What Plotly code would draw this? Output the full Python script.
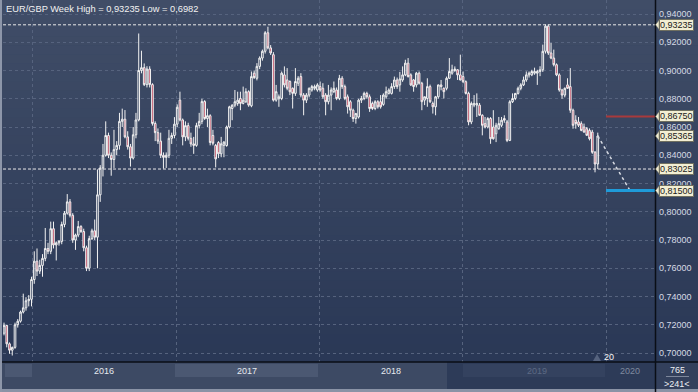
import plotly.graph_objects as go
import pandas as pd

# ---------------- data (weekly EUR/GBP candles) ----------------
title_text = "EUR/GBP Week High = 0,93235 Low = 0,6982"
first_week = "2015-10-21"

open_ = [
    .7140,.7195,.7065,.7020,.7040,.7200,.7225,.7290,.7320,.7370,
    .7380,.7520,.7650,.7580,.7620,.7670,.7740,.7720,.7880,.7765,
    .7780,.7790,.7910,.7990,.8070,.7975,.7800,.7835,.7895,.7860,
    .7745,.7600,.7810,.7865,.7820,.8120,.8310,.8400,.8540,.8400,
    .8370,.8440,.8470,.8640,.8655,.8530,.8460,.8380,.8545,.8650,
    .9000,.9020,.8900,.9010,.8900,.8625,.8560,.8500,.8400,.8385,
    .8400,.8520,.8540,.8620,.8790,.8650,.8530,.8610,.8520,.8480,
    .8470,.8610,
    .8640,.8780,.8660,.8680,.8540,.8470,.8490,.8410,.8470,.8469,
    .8600,.8731,.8755,.8767,.8802,.8767,.8779,.8850,.8750,.8981,
    .8945,.9029,.9088,.9136,.9267,.9160,.9112,.8790,.8800,.8802,
    .8969,.8933,.8922,.8874,.8838,.8910,.8957,.8826,.8790,.8826,
    .8862,.8874,.8862,.8886,.8874,.8826,.8779,.8826,.8850,.8862,
    .8802,.8945,.8886,.8814,.8779,.8719,.8660,.8671,.8790,.8802,
    .8838,.8814,.8767,.8731,.8779,.8779,.8760,.8814,.8838,.8838,.8886,.8933,
    .8898,.8933,.8969,.9052,.8969,.8933,.8898,.8981,.8910,.8790,
    .8802,.8886,.8767,.8743,.8814,.8898,.8874,.8874,.8945,.8981,
    .9000,.9005,.8969,.8957,.8921,.8838,.8636,.8755,.8755,.8755,
    .8683,.8624,.8600,.8660,.8600,.8552,.8588,.8612,.8660,.8636,
    .8505,.8779,.8802,.8838,.8874,.8898,.8933,.8969,.8969,.8981,
    .8981,.8993,.9005,.9136,.9314,.9124,.9088,.9041,.8969,.8862,
    .8826,.8898,.8886,.8719,.8648,.8636,.8624,.8600,.8588,.8576,.8564,.8421,.8338,
]
high_ = [
    .7215,.7200,.7075,.7045,.7215,.7240,.7300,.7420,.7395,.7410,
    .7540,.7720,.7740,.7660,.7700,.7885,.7780,.7930,.7930,.7790,
    .7800,.7930,.8005,.8125,.8090,.7990,.7845,.7935,.7905,.7880,
    .7760,.7830,.7880,.7945,.8300,.8330,.8480,.8640,.8560,.8420,
    .8580,.8500,.8700,.8730,.8720,.8570,.8480,.8600,.8700,.9262,
    .9140,.9050,.9030,.9030,.8910,.8640,.8590,.8560,.8420,.8420,
    .8580,.8560,.8670,.8760,.8850,.8660,.8640,.8630,.8560,.8530,
    .8630,.8700,
    .8800,.8790,.8730,.8690,.8580,.8480,.8500,.8530,.8500,.8610,
    .8750,.8760,.8862,.8850,.8850,.8886,.8874,.8860,.8993,.9000,
    .9052,.9100,.9148,.9279,.9310,.9180,.9130,.8898,.8830,.8993,
    .9029,.9017,.8930,.8880,.9017,.8960,.8981,.8840,.8840,.8880,
    .8898,.8900,.8910,.8922,.8910,.8840,.8898,.8880,.8922,.8880,
    .8969,.8960,.8900,.8830,.8790,.8730,.8700,.8800,.8820,.8850,
    .8850,.8830,.8780,.8790,.8790,.8826,.8838,.8886,.8874,.8910,.8957,.8950,
    .8990,.9029,.9076,.9088,.8980,.8940,.8990,.8993,.8920,.8810,
    .8945,.8900,.8780,.8820,.8900,.8933,.8880,.8957,.9088,.9041,
    .9029,.9010,.9112,.8993,.8930,.8850,.8780,.8826,.8838,.8770,
    .8690,.8671,.8670,.8670,.8719,.8630,.8671,.8671,.8683,.8650,
    .8790,.8838,.8840,.8886,.8910,.8957,.8993,.8993,.9005,.9020,
    .9005,.9030,.9183,.9326,.9326,.9195,.9148,.9050,.8980,.8870,
    .8880,.8945,.9017,.8730,.8683,.8671,.8640,.8624,.8600,.8590,.8580,.8430,.8560,
]
low_ = [
    .7125,.7040,.6995,.6982,.7030,.7180,.7215,.7280,.7300,.7330,
    .7330,.7490,.7545,.7560,.7540,.7650,.7700,.7700,.7740,.7655,
    .7760,.7770,.7890,.7980,.7960,.7780,.7730,.7820,.7850,.7720,
    .7580,.7580,.7800,.7800,.7600,.8070,.8250,.8390,.8380,.8255,
    .8310,.8400,.8440,.8600,.8520,.8440,.8320,.8370,.8520,.8640,
    .8980,.8890,.8880,.8880,.8610,.8500,.8480,.8380,.8305,.8310,
    .8380,.8480,.8520,.8600,.8640,.8470,.8500,.8505,.8460,.8410,
    .8460,.8590,
    .8620,.8650,.8600,.8470,.8470,.8314,.8380,.8386,.8386,.8460,
    .8590,.8648,.8740,.8750,.8719,.8760,.8770,.8743,.8740,.8940,
    .8930,.9010,.9070,.9120,.9150,.9110,.8780,.8779,.8743,.8790,
    .8880,.8860,.8826,.8731,.8820,.8890,.8810,.8683,.8770,.8810,
    .8850,.8860,.8850,.8850,.8800,.8683,.8760,.8719,.8840,.8790,
    .8790,.8870,.8790,.8695,.8671,.8636,.8624,.8660,.8770,.8790,
    .8800,.8707,.8720,.8719,.8730,.8730,.8750,.8800,.8830,.8830,.8870,.8870,
    .8850,.8920,.8960,.8950,.8890,.8850,.8880,.8900,.8719,.8755,
    .8743,.8770,.8695,.8683,.8800,.8860,.8802,.8860,.8940,.8970,
    .8990,.8933,.8930,.8910,.8830,.8612,.8620,.8740,.8671,.8680,
    .8541,.8590,.8590,.8481,.8510,.8493,.8580,.8600,.8630,.8493,
    .8500,.8770,.8790,.8830,.8860,.8890,.8920,.8950,.8960,.8970,
    .8898,.8960,.8990,.9120,.9110,.9080,.9029,.8960,.8850,.8800,
    .8810,.8870,.8700,.8588,.8588,.8600,.8570,.8560,.8540,.8505,.8410,.8279,.8302,
]
close_ = [
    .7195,.7065,.7020,.7040,.7200,.7225,.7290,.7320,.7370,.7380,
    .7520,.7650,.7580,.7620,.7670,.7740,.7720,.7880,.7765,.7780,
    .7790,.7910,.7990,.8070,.7975,.7800,.7835,.7895,.7860,.7745,
    .7600,.7810,.7865,.7820,.8120,.8310,.8400,.8540,.8400,.8370,
    .8440,.8470,.8640,.8655,.8530,.8460,.8380,.8545,.8650,.9000,
    .9020,.8900,.9010,.8900,.8625,.8560,.8500,.8400,.8385,.8400,
    .8520,.8540,.8620,.8740,.8650,.8530,.8610,.8520,.8480,.8470,
    .8610,.8640,
    .8780,.8660,.8680,.8490,.8485,.8374,.8410,.8481,.8493,.8600,
    .8743,.8755,.8779,.8790,.8767,.8790,.8850,.8755,.8957,.8950,
    .9029,.9088,.9136,.9267,.9160,.9124,.8790,.8850,.8814,.8981,
    .8898,.8874,.8850,.8838,.8922,.8945,.8826,.8790,.8826,.8874,
    .8886,.8886,.8898,.8862,.8814,.8779,.8826,.8862,.8874,.8802,
    .8945,.8886,.8802,.8743,.8719,.8660,.8695,.8790,.8802,.8838,
    .8814,.8731,.8731,.8779,.8743,.8743,.8826,.8850,.8862,.8886,.8933,.8886,
    .8940,.8969,.9052,.8957,.8898,.8886,.8981,.8910,.8779,.8814,
    .8886,.8779,.8743,.8814,.8898,.8886,.8850,.8945,.8993,.9005,
    .9010,.8969,.8933,.8921,.8838,.8636,.8767,.8767,.8767,.8683,
    .8612,.8600,.8660,.8517,.8517,.8612,.8624,.8648,.8648,.8505,
    .8779,.8802,.8838,.8874,.8898,.8933,.8969,.8981,.8993,.8993,
    .8993,.9005,.9136,.9314,.9124,.9088,.9041,.8969,.8862,.8826,
    .8874,.8874,.8719,.8612,.8624,.8612,.8576,.8564,.8541,.8517,.8421,.8338,.85365,
]

y_tick_values = [0.70, 0.72, 0.74, 0.76, 0.78, 0.80, 0.82, 0.84, 0.86, 0.88, 0.90, 0.92, 0.94]
y_tick_text = ["0,70000", "0,72000", "0,74000", "0,76000", "0,78000", "0,80000", "0,82000",
               "0,84000", "0,86000", "0,88000", "0,90000", "0,92000", "0,94000"]
year_starts = ["2016-01-01", "2017-01-01", "2018-01-01", "2019-01-01", "2020-01-01"]
year_labels = ["2016", "2017", "2018", "2019", "2020"]
year_label_pos = ["2016-07-02", "2017-07-02", "2018-07-02", "2019-07-10", "2020-03-02"]

high_line = 0.93235
low_line = 0.83025
red_level = 0.8675
blue_level = 0.815
target_date = "2020-03-02"
tag_values = [0.93235, 0.8675, 0.85365, 0.83025, 0.815]
tag_texts = ["0,93235", "0,86750", "0,85365", "0,83025", "0,81500"]
counter_top, counter_bottom = "765", ">241<"
marker_label = "20"

# ---------------- layout helpers ----------------
W, H = 698, 392
ML, MR, MT, MB = 3, 43, 0, 30
PW, PH = W - ML - MR, H - MT - MB
x_range = ["2015-10-18 10:05", "2020-05-04 17:15"]
y_range = [0.69363, 0.94991]
FONT = "Liberation Sans, Arial, sans-serif"


def px_x(px):
    return (px - ML) / PW


def px_y(py):
    return (MT + PH - py) / PH


dates = pd.date_range(first_week, periods=len(close_), freq="7D")

fig = go.Figure()
fig.add_trace(go.Candlestick(
    x=dates, open=open_, high=high_, low=low_, close=close_,
    increasing=dict(line=dict(color="#f2f2f2", width=1), fillcolor="rgba(0,0,0,0)"),
    decreasing=dict(line=dict(color="#f2f2f2", width=1), fillcolor="#b8344f"),
    whiskerwidth=0, hoverinfo="skip", showlegend=False,
))
fig.add_trace(go.Scatter(
    x=[dates[-1], pd.Timestamp(target_date)], y=[close_[-1], blue_level],
    mode="lines", line=dict(color="#d6dae2", width=1.5, dash="dot"),
    hoverinfo="skip", showlegend=False,
))

shapes = []
# gradient background
top_c, bot_c = (64, 77, 103), (42, 56, 86)
N = 40
for k in range(N):
    t = k / (N - 1)
    c = tuple(round(top_c[j] + (bot_c[j] - top_c[j]) * t) for j in range(3))
    shapes.append(dict(type="rect", xref="paper", yref="paper", layer="below",
                       x0=px_x(0), x1=px_x(W), y0=px_y(PH * (k + 1) / N + 0.5), y1=px_y(PH * k / N),
                       fillcolor="rgb(%d,%d,%d)" % c, line=dict(width=0)))

# bottom strip
def prect(x0, y0, x1, y1, color, layer="above"):
    shapes.append(dict(type="rect", xref="paper", yref="paper", layer=layer,
                       x0=px_x(x0), x1=px_x(x1), y0=px_y(y1), y1=px_y(y0),
                       fillcolor=color, line=dict(width=0)))

prect(0, 362, W, 392, "#3d4a64")
prect(5, 364, 32, 377, "#4b5872")
prect(175, 364, 318, 377, "#4b5872")
prect(447, 362, 655, 389, "#2d3b58")
prect(463, 364, 605, 377, "#34425f")
prect(656, 362, W, 389, "#33405c")
prect(0, 389, W, 392, "#8a93a6")

# level lines
for v in (high_line, low_line):
    shapes.append(dict(type="line", xref="paper", yref="y", x0=0, x1=1, y0=v, y1=v,
                       line=dict(color="#e8e8e8", width=1, dash="3px,2px")))
shapes.append(dict(type="line", xref="x", yref="y", x0=year_starts[-1], x1=x_range[1],
                   y0=red_level, y1=red_level, line=dict(color="#a83a3c", width=2)))
shapes.append(dict(type="line", xref="x", yref="y", x0=year_starts[-1], x1=x_range[1],
                   y0=blue_level, y1=blue_level, line=dict(color="#1f9bd9", width=3)))

# borders
shapes.append(dict(type="line", xref="paper", yref="paper", x0=px_x(0), x1=px_x(W),
                   y0=px_y(362), y1=px_y(362), line=dict(color="#0a0e16", width=1.5)))
shapes.append(dict(type="line", xref="paper", yref="paper", x0=px_x(655.5), x1=px_x(655.5),
                   y0=px_y(0), y1=px_y(392), line=dict(color="#0a0e16", width=1.5)))
shapes.append(dict(type="line", xref="paper", yref="paper", x0=px_x(1), x1=px_x(1),
                   y0=px_y(0), y1=px_y(392), line=dict(color="#8d96a9", width=2)))
shapes.append(dict(type="line", xref="paper", yref="paper", x0=px_x(666), x1=px_x(689),
                   y0=px_y(376.5), y1=px_y(376.5), line=dict(color="#7d879b", width=1)))
# small marker triangle near "20"
shapes.append(dict(type="path", xref="paper", yref="paper",
                   path="M %f,%f L %f,%f L %f,%f Z" % (px_x(593), px_y(361), px_x(597), px_y(354),
                                                       px_x(601), px_y(361)),
                   fillcolor="#56637e", line=dict(width=0)))

# tag pointers
dh = 4.6 / (PH / (y_range[1] - y_range[0]))
for v in tag_values:
    shapes.append(dict(type="path", xref="paper", yref="y",
                       path="M %f,%f L %f,%f L %f,%f Z" % (px_x(655.5), v, px_x(659), v + dh, px_x(659), v - dh),
                       fillcolor="#f2eed3", line=dict(color="#6f6f60", width=0.5)))

annotations = []
annotations.append(dict(text=title_text, xref="paper", yref="paper", x=px_x(4), y=px_y(8.5),
                        xanchor="left", yanchor="middle", showarrow=False,
                        font=dict(family=FONT, size=9.3, color="#f2f2f2")))
year_colors = ["#e6e9ef", "#e6e9ef", "#e6e9ef", "#5d6a84", "#7f8a9f"]
for lab, pos, col in zip(year_labels, year_label_pos, year_colors):
    annotations.append(dict(text=lab, xref="x", yref="paper", x=pos, y=px_y(370.5),
                            xanchor="center", yanchor="middle", showarrow=False,
                            font=dict(family=FONT, size=9, color=col)))
for txt, v in zip(tag_texts, tag_values):
    annotations.append(dict(text=txt, xref="paper", yref="y", x=px_x(658.5), y=v,
                            xanchor="left", yanchor="middle", showarrow=False,
                            bgcolor="#f2eed3", bordercolor="#6f6f60", borderwidth=1, borderpad=0,
                            font=dict(family=FONT, size=9, color="#1a1a1a")))
annotations.append(dict(text=counter_top, xref="paper", yref="paper", x=px_x(677), y=px_y(369.5),
                        xanchor="center", yanchor="middle", showarrow=False,
                        font=dict(family=FONT, size=9, color="#eef0f4")))
annotations.append(dict(text=counter_bottom, xref="paper", yref="paper", x=px_x(677), y=px_y(384),
                        xanchor="center", yanchor="middle", showarrow=False,
                        font=dict(family=FONT, size=9, color="#eef0f4")))
annotations.append(dict(text=marker_label, xref="paper", yref="paper", x=px_x(609), y=px_y(357),
                        xanchor="center", yanchor="middle", showarrow=False,
                        font=dict(family=FONT, size=9, color="#f4f4f4")))

fig.update_layout(
    width=W, height=H, autosize=False,
    margin=dict(l=ML, r=MR, t=MT, b=MB, pad=0),
    paper_bgcolor="#35435f", plot_bgcolor="rgba(0,0,0,0)",
    hovermode=False, showlegend=False, boxgap=0.15,
    shapes=shapes, annotations=annotations,
    xaxis=dict(type="date", range=x_range, rangeslider=dict(visible=False),
               tickvals=year_starts, showticklabels=False, ticks="",
               showgrid=True, gridcolor="#56637e", gridwidth=1, griddash="3px,3px",
               zeroline=False, showline=False, fixedrange=True),
    yaxis=dict(range=y_range, side="right", tickvals=y_tick_values, ticktext=y_tick_text,
               ticks="", ticklabelstandoff=3,
               tickfont=dict(family=FONT, size=9, color="#d6dbe5"),
               showgrid=True, gridcolor="#56637e", gridwidth=1, griddash="3px,3px",
               zeroline=False, showline=False, fixedrange=True),
)

fig.write_html("out.html")
